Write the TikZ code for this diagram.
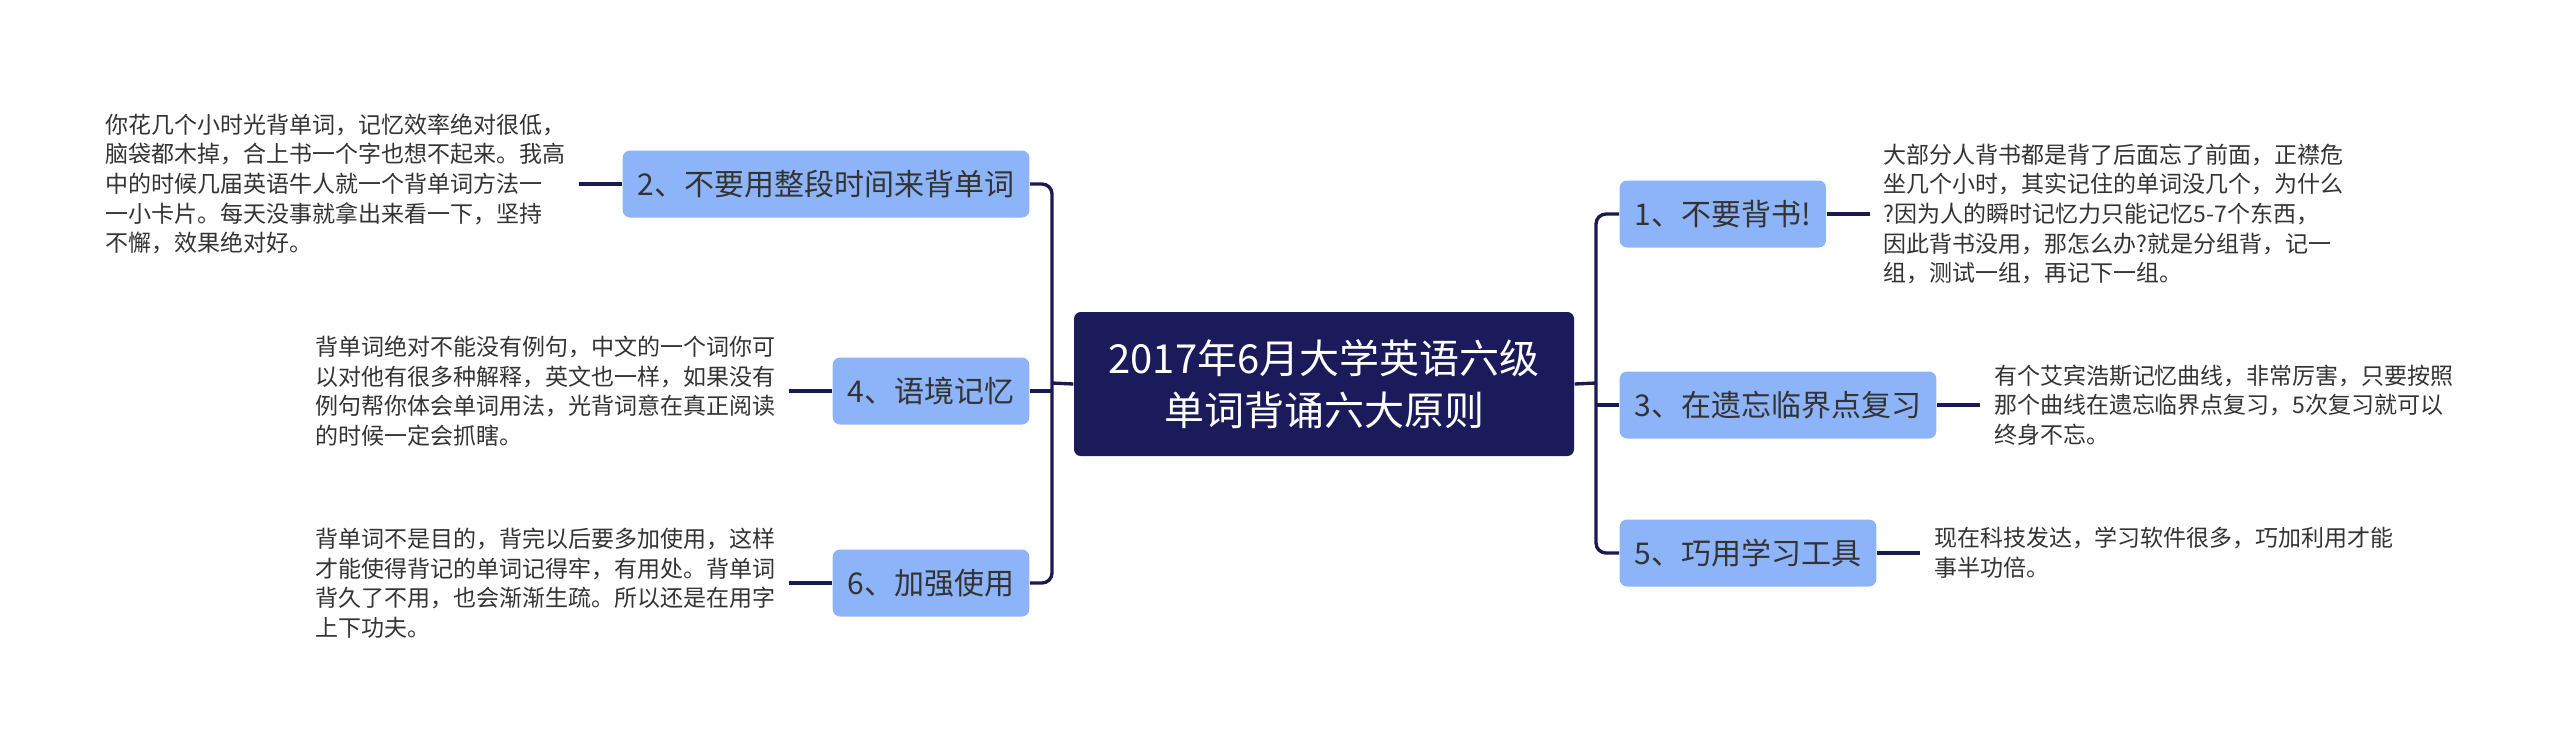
\documentclass[tikz,border=0pt]{standalone}
\usepackage{fontspec}
\setmainfont{Noto Sans CJK SC}
\usetikzlibrary{positioning}

\definecolor{navy}{HTML}{1B1B5C}
\definecolor{topicblue}{HTML}{8DB4F9}
\definecolor{ink}{HTML}{333333}
\definecolor{linkcol}{HTML}{1A1A50}

\tikzset{
  mainbox/.style={fill=navy, rounded corners=2pt, text=white, align=center,
    minimum width=150pt, minimum height=43.2pt, font=\fontsize{12}{15.6}\selectfont},
  topicbox/.style={fill=topicblue, rounded corners=2.2pt, text=ink, inner xsep=4.5pt,
    minimum height=20.1pt, font=\fontsize{9}{11}\selectfont},
  leaftext/.style={align=left, text=ink, inner xsep=4pt, inner ysep=0pt,
    font=\fontsize{6.9}{8.9}\selectfont},
  link/.style={draw=linkcol, line width=1pt, rounded corners=3pt},
}

\begin{document}
\begin{tikzpicture}[x=0.3pt, y=-0.3pt]
  \useasboundingbox (0,0) rectangle (2560,753);

  % centre
  \node[mainbox] (main) at (1324,384) {2017年6月大学英语六级\\单词背诵六大原则};

  % left topics
  \node[topicbox, anchor=east, minimum width=120.6pt] (n2) at (1030,184) {2、不要用整段时间来背单词};
  \node[topicbox, anchor=east] (n4) at (1030,391) {4、语境记忆};
  \node[topicbox, anchor=east] (n6) at (1030,583) {6、加强使用};

  % right topics
  \node[topicbox, anchor=west] (n1) at (1619,214) {1、不要背书!};
  \node[topicbox, anchor=west] (n3) at (1619,405) {3、在遗忘临界点复习};
  \node[topicbox, anchor=west] (n5) at (1619,553) {5、巧用学习工具};

  % notes
  \node[leaftext, left=12.9pt of n2] (t2) {你花几个小时光背单词，记忆效率绝对很低，\\脑袋都木掉，合上书一个字也想不起来。我高\\中的时候几届英语牛人就一个背单词方法一\\一小卡片。每天没事就拿出来看一下，坚持\\不懈，效果绝对好。};
  \node[leaftext, left=12.9pt of n4] (t4) {背单词绝对不能没有例句，中文的一个词你可\\以对他有很多种解释，英文也一样，如果没有\\例句帮你体会单词用法，光背词意在真正阅读\\的时候一定会抓瞎。};
  \node[leaftext, left=12.9pt of n6] (t6) {背单词不是目的，背完以后要多加使用，这样\\才能使得背记的单词记得牢，有用处。背单词\\背久了不用，也会渐渐生疏。所以还是在用字\\上下功夫。};
  \node[leaftext, right=12.9pt of n1] (t1) {大部分人背书都是背了后面忘了前面，正襟危\\坐几个小时，其实记住的单词没几个，为什么\\?因为人的瞬时记忆力只能记忆5-7个东西，\\因此背书没用，那怎么办?就是分组背，记一\\组，测试一组，再记下一组。};
  \node[leaftext, right=12.9pt of n3] (t3) {有个艾宾浩斯记忆曲线，非常厉害，只要按照\\那个曲线在遗忘临界点复习，5次复习就可以\\终身不忘。};
  \node[leaftext, right=12.9pt of n5] (t5) {现在科技发达，学习软件很多，巧加利用才能\\事半功倍。};

  % trunks
  \coordinate (lt) at (1052,383);
  \coordinate (rt) at (1596,383);
  \draw[link] (main.west) -- (lt);
  \draw[link] (n2.east) -| (lt) |- (n6.east);
  \draw[link] (n4.east) -- (n4.east -| lt);
  \draw[link] (main.east) -- (rt);
  \draw[link] (n1.west) -| (rt) |- (n5.west);
  \draw[link] (n3.west) -- (n3.west -| rt);

  % note links
  \draw[link] (n2.west) -- (t2.east);
  \draw[link] (n4.west) -- (t4.east);
  \draw[link] (n6.west) -- (t6.east);
  \draw[link] (n1.east) -- (t1.west);
  \draw[link] (n3.east) -- (t3.west);
  \draw[link] (n5.east) -- (t5.west);
\end{tikzpicture}
\end{document}
